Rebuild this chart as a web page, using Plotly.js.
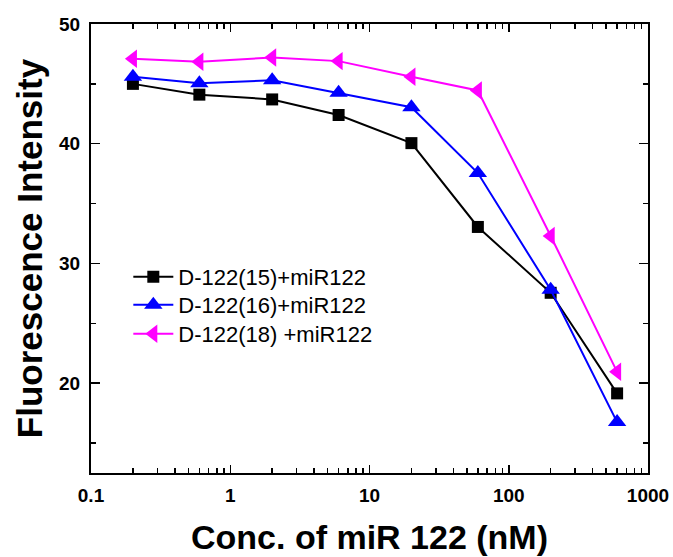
<!DOCTYPE html>
<html>
<head>
<meta charset="utf-8">
<script src="https://cdn.plot.ly/plotly-3.0.1.min.js"></script>
<style>html,body{margin:0;padding:0;background:#fff;}#chart{width:673px;height:557px;}</style>
</head>
<body>
<div id="chart"></div>
<script>
var conc = [0.2, 0.6, 2, 6, 20, 60, 200, 600];
var d15 = [45.0, 44.1, 43.7, 42.4, 40.05, 33.05, 27.55, 19.15];
var d16 = [45.6, 45.05, 45.3, 44.25, 43.05, 37.55, 27.8, 16.75];
var d18 = [47.1, 46.85, 47.2, 46.9, 45.6, 44.45, 32.3, 20.95];
var names = ['D-122(15)+miR122', 'D-122(16)+miR122', 'D-122(18) +miR122'];
var xTickVals = [0.1, 1, 10, 100, 1000];
var xTickText = ['0.1', '1', '10', '100', '1000'];
var yTickVals = [20, 30, 40, 50];

var FONT = 'Arial, Liberation Sans, sans-serif';
var traces = [
  {x: conc, y: d15, name: names[0], legend: 'legend', mode: 'lines+markers', type: 'scatter',
   line: {color: '#000000', width: 2}, marker: {symbol: 'square', size: 12, color: '#000000'}},
  {x: conc, y: d16, name: names[1], legend: 'legend2', mode: 'lines+markers', type: 'scatter',
   line: {color: '#0000ff', width: 2}, marker: {symbol: 'triangle-up', size: 16, color: '#0000ff'}},
  {x: conc, y: d18, name: names[2], legend: 'legend3', mode: 'lines+markers', type: 'scatter',
   line: {color: '#ff00ff', width: 2}, marker: {symbol: 'triangle-left', size: 16, color: '#ff00ff'}}
];

function leg(y) {
  return {x: 0.067, y: y, xanchor: 'left', yanchor: 'middle', bgcolor: 'rgba(0,0,0,0)',
          font: {size: 22, family: FONT}, itemwidth: 40};
}

var layout = {
  width: 673, height: 557,
  margin: {l: 91, r: 25, t: 24, b: 84, pad: 0},
  paper_bgcolor: '#ffffff', plot_bgcolor: '#ffffff',
  font: {family: FONT, color: '#000'},
  showlegend: true,
  legend: leg(0.4365),
  legend2: leg(0.3742),
  legend3: leg(0.3096),
  xaxis: {
    type: 'log', range: [-1, 3], showgrid: false, zeroline: false,
    showline: true, linecolor: '#000', linewidth: 2, mirror: 'ticks',
    ticks: 'inside', ticklen: 8, tickwidth: 1.5, tickcolor: '#000',
    tickvals: xTickVals, ticktext: xTickText,
    tickfont: {size: 19, family: FONT, weight: 'bold'},
    ticklabelstandoff: 4,
    minor: {dtick: 'D1', ticks: 'inside', ticklen: 5, tickwidth: 1.5, tickcolor: '#000', showgrid: false},
    title: {text: 'Conc. of miR 122 (nM)', font: {size: 34, weight: 'bold', family: FONT}, standoff: 20}
  },
  yaxis: {
    range: [12.5, 50], showgrid: false, zeroline: false,
    showline: true, linecolor: '#000', linewidth: 2, mirror: 'ticks',
    ticks: 'inside', ticklen: 9, tickwidth: 1.5, tickcolor: '#000',
    tickvals: yTickVals,
    tickfont: {size: 19, family: FONT, weight: 'bold'},
    ticklabelstandoff: 5,
    minor: {dtick: 5, tick0: 15, ticks: 'inside', ticklen: 5, tickwidth: 1.5, tickcolor: '#000', showgrid: false},
    title: {text: 'Fluorescence Intensity', font: {size: 35, weight: 'bold', family: FONT}, standoff: 6}
  }
};

Plotly.newPlot('chart', traces, layout, {staticPlot: true, displayModeBar: false});
</script>
</body>
</html>
